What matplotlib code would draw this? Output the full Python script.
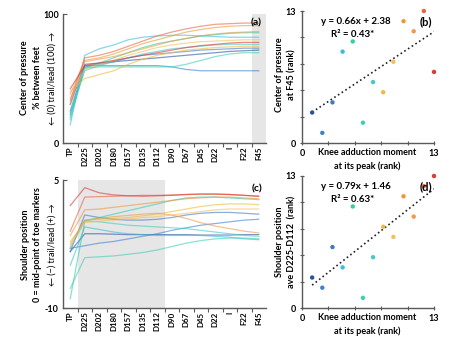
import matplotlib
matplotlib.use('Agg')
import matplotlib.pyplot as plt

plt.rcParams['font.family'] = ['Lato', 'DejaVu Sans']

PHASES = ['TP', 'D225', 'D202', 'D180', 'D157', 'D135', 'D112', 'D90',
          'D67', 'D45', 'D22', 'I', 'F22', 'F45']

# one colour per participant, ordered by knee adduction moment rank (1..13)
COLORS = ['#2c4f9e', '#3c80d2', '#3f79c6', '#3cbcd8', '#2fd0a6', '#3ccfb2',
          '#45c9c4', '#f0b83c', '#f2c05e', '#f0963a', '#ee9a4a', '#e8643e',
          '#d83a34']

# (a) centre of pressure, % between feet
COP = [
    [30, 61, 62, 63, 64, 65, 66, 67, 68, 69, 70, 71, 71.5, 72],
    [25, 60, 60, 60, 60, 60, 60, 59, 57, 56, 56, 56, 56, 56],
    [22, 59, 61, 63, 66, 68, 69, 70, 71, 72, 72.5, 73, 73.5, 73.5],
    [14, 68, 73, 76, 80, 82, 83, 83.5, 83.5, 83, 82.5, 82, 82, 82],
    [20, 58, 62, 66, 70, 74, 77, 79, 81, 83, 84, 85, 85.5, 85.5],
    [18, 58, 59, 59, 59, 59, 59, 59, 61, 64, 67, 69, 70, 70],
    [24, 56, 60, 63, 66, 69, 71, 73, 74, 75, 76, 76.5, 76.5, 76.5],
    [40, 50, 53, 56, 61, 65, 68, 70, 72, 73, 74, 74.5, 75, 75],
    [35, 57, 61, 64, 68, 71, 74, 76, 77.5, 78.5, 79, 79.5, 80, 80],
    [30, 64, 66, 69, 73, 77, 80, 83, 86, 88, 89.5, 90.5, 91, 91],
    [38, 63, 65, 67, 70, 73, 76, 79, 81, 83, 84.5, 85.5, 86, 86.5],
    [33, 66, 68, 71, 75, 79, 83, 86, 88.5, 90.5, 92, 92.5, 93, 93],
    [42, 60, 62, 64, 66, 68, 70, 72, 74, 75.5, 76.5, 77.5, 78, 78],
]

# (c) shoulder position relative to mid-point of toe markers
SHOULDER = [
    [-3.4, -1.3, -1.3, -1.35, -1.4, -1.4, -1.4, -1.4, -1.4, -1.45, -1.45, -1.45, -1.4, -1.4],
    [-3.0, -2.7, -2.4, -2.2, -1.9, -1.6, -1.3, -0.9, -0.6, -0.3, -0.1, 0.1, 0.3, 0.4],
    [-3.4, 0.9, 0.6, 0.4, 0.3, 0.3, 0.4, 0.6, 0.9, 1.1, 1.2, 1.2, 1.1, 1.0],
    [-5.0, -0.5, -0.8, -1.1, -1.3, -1.4, -1.5, -1.5, -1.5, -1.5, -1.6, -1.7, -1.9, -2.0],
    [-8.9, 0.2, 0.6, 1.0, 1.4, 1.8, 2.2, 2.6, 2.9, 3.0, 3.0, 2.9, 2.8, 2.7],
    [-7.7, -4.1, -4.0, -3.9, -3.7, -3.5, -3.2, -2.8, -2.4, -2.1, -1.9, -1.8, -1.8, -1.9],
    [-3.0, 0.2, 0.1, -0.1, -0.3, -0.4, -0.5, -0.6, -0.7, -0.9, -1.1, -1.3, -1.5, -1.6],
    [-2.8, 0.3, 0.4, 0.5, 0.6, 0.8, 1.0, 1.3, 1.6, 1.9, 2.1, 2.2, 2.2, 2.1],
    [-2.2, 0.0, 0.2, 0.3, 0.45, 0.6, 0.7, 0.9, 1.1, 1.3, 1.5, 1.6, 1.6, 1.6],
    [-1.5, 1.5, 1.6, 1.8, 2.0, 2.2, 2.4, 2.6, 2.8, 2.9, 3.0, 3.0, 2.9, 2.8],
    [-2.5, 0.3, 0.5, 0.7, 0.85, 1.0, 1.1, 0.9, 0.5, 0.0, -0.4, -0.7, -1.0, -1.2],
    [-1.0, 3.0, 3.05, 3.1, 3.15, 3.2, 3.2, 3.25, 3.3, 3.35, 3.35, 3.3, 3.2, 3.1],
    [2.0, 4.1, 3.5, 3.25, 3.15, 3.1, 3.15, 3.2, 3.3, 3.35, 3.35, 3.3, 3.2, 3.1],
]

# (b), (d) rank correlations
KAM_RANK = [1, 2, 3, 4, 5, 6, 7, 8, 9, 10, 11, 12, 13]
COP_RANK = [3, 1, 4, 9, 10, 2, 6, 5, 8, 12, 11, 13, 7]
SH_RANK = [3, 2, 6, 4, 10, 1, 5, 8, 7, 11, 9, 12, 13]
FIT_B = (0.66, 2.38)
FIT_D = (0.79, 1.46)

SPINE = '#595959'
W, H = 453, 343
fig = plt.figure(figsize=(W / 100, H / 100), dpi=100)


def box(l, t, r, b):
    return [l / W, 1 - b / H, (r - l) / W, (b - t) / H]


def line_panel(ax, data, ylim, yticks, shade, tag):
    x = list(range(len(PHASES)))
    ax.axvspan(shade[0], shade[1], color='#e6e6e6', lw=0, zorder=0)
    for vals, c in zip(data, COLORS):
        ax.plot(x, vals, color=c, lw=0.9, alpha=0.6, zorder=2)
    ax.set_xlim(-0.5, len(PHASES) - 0.5)
    ax.set_ylim(*ylim)
    ax.set_xticks(x)
    ax.set_xticklabels(PHASES, rotation=90, fontsize=5.7, fontweight='bold')
    ax.set_xticks([i + 0.5 for i in x[:-1]], minor=True)
    ax.tick_params(axis='x', which='major', length=0, pad=2.5)
    ax.tick_params(axis='x', which='minor', length=3, width=0.8, color=SPINE, direction='out')
    ax.set_yticks(yticks)
    ax.set_yticklabels([str(v) for v in yticks], fontsize=6.5, fontweight='bold')
    ax.tick_params(axis='y', length=3, width=0.8, color=SPINE, direction='in', pad=3)
    for s in ['top', 'right']:
        ax.spines[s].set_visible(False)
    for s in ['left', 'bottom']:
        ax.spines[s].set_color(SPINE)
        ax.spines[s].set_linewidth(1.0)
    ax.text(0.98, 0.93, tag, transform=ax.transAxes, ha='right', va='center',
            fontsize=7.5, fontweight='bold')


def scatter_panel(ax, y, fit, eq, r2, tag):
    ax.scatter(KAM_RANK, y, c=COLORS, s=10, zorder=3, clip_on=False, linewidths=0)
    xs = [KAM_RANK[0], KAM_RANK[-1]]
    ax.plot(xs, [fit[0] * v + fit[1] for v in xs], ls=':', color='#222222',
            lw=1.2, zorder=2)
    ax.set_xlim(0, 13)
    ax.set_ylim(0, 13)
    ticks = [0, 2.6, 5.2, 7.8, 10.4, 13]
    labels = ['0', '', '', '', '', '13']
    ax.set_xticks(ticks)
    ax.set_xticklabels(labels, fontsize=6.5, fontweight='bold')
    ax.set_yticks(ticks)
    ax.set_yticklabels(labels, fontsize=6.5, fontweight='bold')
    ax.tick_params(length=3, width=0.8, color=SPINE, direction='inout', pad=3)
    for s in ['top', 'right']:
        ax.spines[s].set_visible(False)
    for s in ['left', 'bottom']:
        ax.spines[s].set_color(SPINE)
        ax.spines[s].set_linewidth(1.0)
    ax.text(0.41, 0.92, eq, transform=ax.transAxes, ha='center', va='center',
            fontsize=7, fontweight='bold')
    ax.text(0.38, 0.82, r2, transform=ax.transAxes, ha='center', va='center',
            fontsize=7, fontweight='bold')
    ax.text(0.985, 0.92, tag, transform=ax.transAxes, ha='right', va='center',
            fontsize=8, fontweight='bold')


ax_a = fig.add_axes(box(63, 14, 266, 143))
line_panel(ax_a, COP, (0, 100), [0, 100], (12.5, 13.5), '(a)')
ax_c = fig.add_axes(box(63, 180, 266, 308))
line_panel(ax_c, SHOULDER, (-10, 5), [-10, 5], (0.5, 6.5), '(c)')

ax_b = fig.add_axes(box(302, 11, 434, 143))
scatter_panel(ax_b, COP_RANK, FIT_B, 'y = 0.66x + 2.38', 'R² = 0.43*', '(b)')
ax_d = fig.add_axes(box(302, 176, 434, 308))
scatter_panel(ax_d, SH_RANK, FIT_D, 'y = 0.79x + 1.46', 'R² = 0.63*', '(d)')


def ylab(x, y, s, bold=True, size=6.5):
    fig.text(x / W, 1 - y / H, s, rotation=90, ha='center', va='center',
             fontsize=size, fontweight='bold' if bold else 'normal')


ylab(25, 78, 'Center of pressure')
ylab(38, 78, '% between feet')
ylab(52, 78, '← (0) trail/lead (100) →', bold=False)
ylab(25, 245, 'Shoulder position')
ylab(38, 245, '0 = mid-point of toe markers')
ylab(52, 245, '← (−) trail/lead (+) →', bold=False)

ylab(279, 75, 'Center of pressure')
ylab(292, 75, 'at F45 (rank)')
ylab(279, 242, 'Shoulder position')
ylab(292, 242, 'ave D225-D112  (rank)')

for y0 in (153, 318):
    fig.text(367 / W, 1 - y0 / H, 'Knee adduction moment', ha='center',
             va='center', fontsize=6.5, fontweight='bold')
    fig.text(367 / W, 1 - (y0 + 13) / H, 'at its peak (rank)', ha='center',
             va='center', fontsize=6.5, fontweight='bold')

fig.savefig('out.png', dpi=100)
